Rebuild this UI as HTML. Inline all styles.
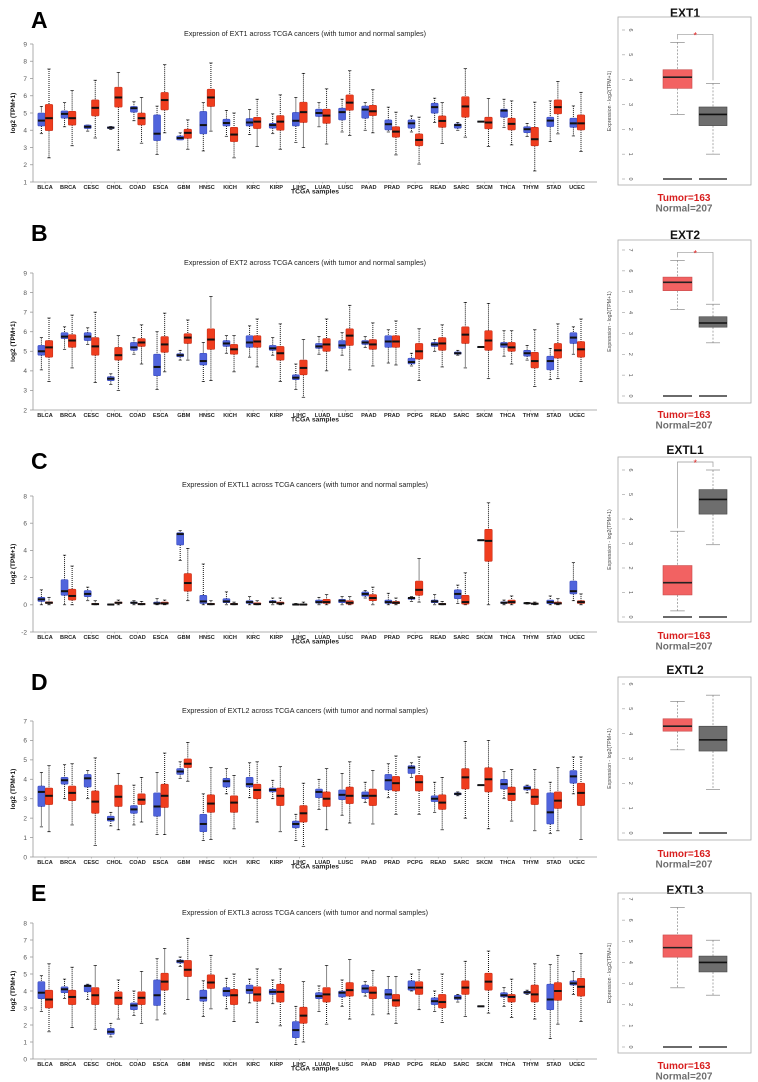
<!DOCTYPE html>
<html><head><meta charset="utf-8"><style>
html,body{margin:0;padding:0;background:#fff;}
svg{display:block;font-family:"Liberation Sans",sans-serif;}
</style></head><body>
<svg id="fig" width="758" height="1082" viewBox="0 0 758 1082" xmlns="http://www.w3.org/2000/svg"></svg>
<script>
const cats=["BLCA","BRCA","CESC","CHOL","COAD","ESCA","GBM","HNSC","KICH","KIRC","KIRP","LIHC","LUAD","LUSC","PAAD","PRAD","PCPG","READ","SARC","SKCM","THCA","THYM","STAD","UCEC"];
// stats: [q1, median, q3, whiskerLow, whiskerHigh]
const A_normal=[[4.25,4.56,5.0,3.8,5.38],[4.7,4.95,5.12,4.2,5.6],[4.1,4.2,4.3,3.95,4.3],[4.1,4.15,4.2,4.05,4.22],[5.05,5.28,5.38,4.55,5.65],[3.4,3.8,4.89,2.6,5.4],[3.44,3.55,3.67,3.45,3.85],[3.79,4.3,5.09,2.8,5.6],[4.25,4.42,4.64,3.65,5.15],[4.25,4.45,4.68,3.75,5.2],[4.12,4.3,4.4,3.8,4.95],[4.25,4.55,5.03,3.3,5.9],[4.8,5.0,5.22,4.2,5.6],[4.6,5.05,5.28,3.9,5.8],[4.7,5.2,5.4,4.0,5.6],[4.02,4.35,4.6,3.9,5.34],[4.12,4.4,4.6,3.9,4.83],[4.99,5.34,5.57,4.45,5.86],[4.12,4.3,4.37,4.0,4.45],[4.5,4.5,4.5,4.5,4.5],[4.76,5.14,5.22,4.17,5.8],[3.86,4.06,4.21,3.63,4.4],[4.21,4.56,4.76,3.34,5.7],[4.17,4.4,4.7,3.67,5.41]];
const A_tumor=[[3.98,4.7,5.5,2.4,7.55],[4.3,4.7,5.1,3.1,6.3],[4.83,5.3,5.76,3.55,6.9],[5.34,5.9,6.5,2.85,7.35],[4.31,4.7,5.0,3.25,5.9],[5.18,5.75,6.19,3.85,7.8],[3.53,3.85,4.06,2.9,4.6],[5.38,5.9,6.38,3.95,7.9],[3.34,3.75,4.17,2.4,5.0],[4.1,4.5,4.75,3.05,5.8],[4.0,4.5,4.85,2.9,6.05],[4.45,5.05,5.63,3.0,7.3],[4.4,4.85,5.22,3.2,6.4],[5.16,5.6,6.05,3.7,7.45],[4.85,5.1,5.45,3.85,6.35],[3.6,3.92,4.21,2.57,5.05],[3.1,3.44,3.79,2.04,4.76],[4.17,4.54,4.83,3.24,5.6],[4.76,5.38,5.95,3.6,7.57],[4.08,4.45,4.76,3.05,5.84],[4.02,4.37,4.7,3.15,5.7],[3.1,3.48,4.17,1.64,5.63],[4.95,5.34,5.76,3.79,6.83],[4.02,4.4,4.89,2.76,6.2]];
const B_normal=[[4.8,5.0,5.3,4.05,5.7],[5.65,5.75,5.95,5.1,6.25],[5.55,5.75,5.95,5.35,6.2],[3.5,3.6,3.7,3.3,3.85],[5.05,5.2,5.45,4.85,5.7],[3.75,4.2,4.85,3.05,6.0],[4.72,4.8,4.88,4.55,5.05],[4.3,4.5,4.9,3.45,5.45],[5.25,5.4,5.55,4.9,5.8],[5.2,5.45,5.8,4.7,6.3],[5.05,5.15,5.3,4.8,5.7],[3.55,3.65,3.8,3.05,4.35],[5.15,5.25,5.4,4.85,5.75],[5.15,5.3,5.55,4.8,5.95],[5.35,5.45,5.55,5.2,5.75],[5.2,5.5,5.8,4.4,6.1],[4.35,4.45,4.65,4.25,4.9],[5.25,5.35,5.45,5.0,5.6],[4.85,4.9,4.97,4.8,5.05],[5.22,5.22,5.22,5.22,5.22],[5.2,5.35,5.45,4.75,6.05],[4.75,4.9,5.05,4.55,5.3],[4.05,4.5,4.75,3.55,5.15],[5.4,5.7,5.95,4.85,6.25]];
const B_tumor=[[4.7,5.2,5.55,3.45,6.7],[5.2,5.55,5.85,4.15,6.85],[4.8,5.25,5.7,3.4,7.0],[4.55,4.8,5.2,3.0,5.8],[5.25,5.45,5.65,4.35,6.35],[4.95,5.35,5.75,3.95,6.95],[5.4,5.7,5.9,4.55,6.6],[5.1,5.6,6.15,3.5,7.8],[4.85,5.1,5.35,3.95,5.8],[5.2,5.5,5.8,4.2,6.65],[4.55,4.9,5.25,3.45,6.4],[3.8,4.15,4.55,2.65,5.6],[5.0,5.35,5.65,4.0,6.65],[5.3,5.8,6.15,4.05,7.35],[5.1,5.35,5.6,4.25,6.45],[5.2,5.5,5.8,4.3,6.55],[4.6,5.0,5.4,3.5,6.15],[5.05,5.4,5.7,4.2,6.35],[5.4,5.85,6.25,4.15,7.5],[5.05,5.55,6.05,3.6,7.45],[5.0,5.2,5.45,4.35,6.05],[4.15,4.5,4.95,3.2,6.1],[4.65,5.05,5.4,3.6,6.4],[4.7,5.1,5.5,3.45,6.65]];
const C_normal=[[0.25,0.4,0.55,0,1.1],[0.7,1.0,1.85,0,3.65],[0.6,0.8,1.05,0.3,1.3],[0,0.02,0.04,0,0.05],[0.1,0.15,0.2,0,0.3],[0.05,0.1,0.2,0,0.45],[4.4,5.2,5.3,3.25,5.45],[0.1,0.25,0.7,0,3.0],[0.15,0.25,0.45,0,0.95],[0.1,0.2,0.3,0,0.6],[0.15,0.2,0.3,0,0.5],[0,0.02,0.04,0,0.1],[0.12,0.2,0.35,0,0.55],[0.15,0.3,0.4,0,0.6],[0.65,0.8,0.95,0.5,1.05],[0.1,0.2,0.35,0,0.85],[0.4,0.5,0.55,0.25,0.6],[0.15,0.25,0.35,0,0.75],[0.45,0.8,1.1,0.1,1.45],[4.75,4.75,4.75,4.75,4.75],[0.1,0.15,0.22,0,0.35],[0.08,0.12,0.15,0.05,0.18],[0.08,0.2,0.35,0,0.65],[0.8,1.0,1.75,0.3,3.1]];
const C_tumor=[[0.1,0.15,0.22,0,0.55],[0.35,0.65,1.15,0,2.85],[0.02,0.05,0.1,0,0.3],[0.1,0.15,0.2,0,0.35],[0.02,0.05,0.1,0,0.25],[0.05,0.1,0.2,0,0.35],[1.0,1.6,2.3,0.3,4.15],[0.02,0.05,0.1,0,0.3],[0.02,0.05,0.1,0,0.2],[0.02,0.05,0.15,0,0.3],[0.05,0.1,0.2,0,0.5],[0,0.02,0.05,0,0.2],[0.1,0.2,0.4,0,0.75],[0.05,0.15,0.3,0,0.6],[0.3,0.5,0.75,0,1.3],[0.08,0.15,0.25,0,0.5],[0.7,1.1,1.75,0.2,3.4],[0.02,0.05,0.1,0,0.25],[0.05,0.2,0.7,0,2.35],[3.2,4.7,5.55,0,7.5],[0.1,0.2,0.35,0,0.65],[0.04,0.08,0.12,0,0.2],[0.05,0.1,0.2,0,0.45],[0.1,0.2,0.3,0,0.8]];
const D_normal=[[2.6,3.35,3.65,1.55,4.35],[3.75,3.95,4.1,3.0,4.75],[3.6,4.05,4.25,3.0,4.45],[1.85,1.95,2.1,1.6,2.3],[2.25,2.45,2.65,1.65,3.7],[2.1,2.6,3.3,1.15,4.35],[4.25,4.4,4.55,4.05,4.9],[1.3,1.7,2.2,0.85,3.25],[3.6,3.9,4.05,3.25,4.55],[3.6,3.75,4.1,3.05,4.85],[3.35,3.45,3.55,3.0,3.95],[1.5,1.7,1.85,0.85,2.2],[3.05,3.35,3.5,2.45,4.0],[2.95,3.2,3.45,2.15,4.3],[3.0,3.15,3.35,2.8,3.85],[3.45,3.95,4.25,3.05,4.8],[4.3,4.6,4.7,4.1,4.85],[2.85,3.0,3.15,2.3,3.85],[3.2,3.25,3.3,3.15,3.35],[3.7,3.7,3.7,3.7,3.7],[3.5,3.75,4.0,3.0,4.4],[3.45,3.55,3.65,3.3,3.7],[1.7,2.3,3.3,1.2,3.85],[3.8,4.15,4.45,3.25,5.15]];
const D_tumor=[[2.7,3.15,3.55,1.3,4.7],[2.9,3.3,3.65,1.65,4.8],[2.25,2.85,3.4,0.6,5.1],[2.6,3.1,3.7,1.4,4.3],[2.7,2.95,3.25,1.8,4.1],[2.55,3.15,3.75,1.15,5.35],[4.6,4.8,5.05,3.9,5.9],[2.3,2.75,3.2,0.9,4.6],[2.3,2.8,3.15,1.45,4.2],[3.0,3.45,3.75,1.8,4.9],[2.65,3.15,3.55,1.3,4.65],[1.8,2.25,2.65,0.55,3.8],[2.6,3.0,3.35,1.4,4.55],[2.75,3.15,3.6,1.75,4.9],[2.65,3.15,3.5,1.7,4.45],[3.4,3.8,4.15,2.2,5.2],[3.4,3.85,4.2,2.2,5.15],[2.45,2.8,3.2,1.4,4.1],[3.5,4.1,4.55,2.0,5.95],[3.35,4.0,4.6,1.45,6.0],[2.9,3.25,3.6,1.85,4.5],[2.7,3.1,3.5,1.35,4.5],[2.5,2.9,3.35,1.35,4.6],[2.65,3.3,3.8,0.9,5.15]];
const E_normal=[[3.55,3.9,4.55,2.8,4.9],[3.9,4.1,4.25,3.55,4.7],[3.95,4.3,4.35,3.5,4.4],[1.45,1.6,1.8,1.3,2.1],[2.9,3.15,3.3,2.55,4.0],[3.15,3.75,4.65,2.3,5.9],[5.65,5.75,5.82,5.45,6.0],[3.4,3.6,4.05,2.5,4.6],[3.7,4.0,4.2,2.95,4.75],[3.85,4.05,4.35,3.3,4.7],[3.8,3.95,4.1,3.25,4.65],[1.25,1.7,2.2,0.85,3.1],[3.55,3.7,3.9,2.8,4.3],[3.65,3.9,4.0,3.1,4.65],[3.9,4.15,4.35,3.7,4.55],[3.55,3.8,4.1,2.65,4.85],[4.05,4.2,4.6,4.0,5.0],[3.2,3.4,3.6,2.8,4.0],[3.5,3.6,3.75,3.35,3.8],[3.1,3.1,3.1,3.1,3.1],[3.65,3.75,3.9,3.1,4.2],[3.85,3.92,3.98,3.8,4.05],[2.9,3.5,4.4,1.2,5.55],[4.35,4.45,4.6,3.8,5.15]];
const E_tumor=[[3.0,3.5,4.05,1.6,5.6],[3.2,3.65,4.05,1.85,5.4],[3.2,3.75,4.2,1.75,5.5],[3.2,3.6,3.95,2.35,4.65],[3.2,3.6,3.95,2.1,5.15],[4.05,4.55,5.05,2.65,6.5],[4.85,5.25,5.8,3.5,7.1],[4.15,4.5,4.95,2.95,6.1],[3.2,3.75,4.1,2.2,5.0],[3.4,3.8,4.25,2.15,5.3],[3.35,3.95,4.4,1.95,5.3],[2.1,2.55,3.05,1.0,4.55],[3.35,3.8,4.2,2.05,5.5],[3.7,4.05,4.5,2.35,5.85],[3.55,3.9,4.25,2.6,5.2],[3.1,3.45,3.8,2.1,4.85],[3.8,4.2,4.55,2.9,5.25],[3.0,3.35,3.8,2.15,5.0],[3.8,4.2,4.6,2.5,5.75],[4.05,4.55,5.05,2.7,6.35],[3.35,3.65,3.8,2.45,4.7],[3.35,3.8,4.35,2.35,5.6],[3.45,4.0,4.5,2.05,6.1],[3.7,4.25,4.75,2.2,6.2]];
const A_ticks=[1,2,3,4,5,6,7,8,9];
const B_ticks=[2,3,4,5,6,7,8,9];
const C_ticks=[-2,0,2,4,6,8];
const D_ticks=[0,1,2,3,4,5,6,7];
const E_ticks=[0,1,2,3,4,5,6,7,8];
// right-hand single-cancer panels: [q1, median, q3, low, high]
const RA_tumor=[3.65,4.1,4.4,2.6,5.5], RA_normal=[2.15,2.6,2.9,1.0,3.85];
const RB_tumor=[5.05,5.45,5.7,4.15,6.5], RB_normal=[3.3,3.5,3.8,2.55,4.4];
const RC_tumor=[0.9,1.4,2.1,0.25,3.5], RC_normal=[4.2,4.8,5.2,2.95,6.0];
const RD_tumor=[4.1,4.3,4.6,3.35,5.3], RD_normal=[3.3,3.75,4.3,1.75,5.55];
const RE_tumor=[4.25,4.7,5.3,2.8,6.6], RE_normal=[3.55,4.0,4.3,2.45,5.05];
const RA_ticks=[0,1,2,3,4,5,6], RB_ticks=[0,1,2,3,4,5,6,7], RC_ticks=[0,1,2,3,4,5,6], RD_ticks=[0,1,2,3,4,5,6], RE_ticks=[0,1,2,3,4,5,6,7];
const geneNames=["EXT1","EXT2","EXTL1","EXTL2","EXTL3"];
const letters=["A","B","C","D","E"];
const sampleCounts=["Tumor=163","Normal=207"];

const NS="http://www.w3.org/2000/svg";
const svg=document.getElementById('fig');
function el(tag,attrs,parent,txt){const e=document.createElementNS(NS,tag);for(const k in attrs)e.setAttribute(k,attrs[k]);if(txt!==undefined)e.textContent=txt;(parent||svg).appendChild(e);return e;}

const layout=[
 {normal:A_normal,tumor:A_tumor,ticks:A_ticks,vmin:1,vmax:9,yTop:44,yBot:182,title:34,letter:28,lab:189,
  rT:RA_tumor,rN:RA_normal,rTicks:RA_ticks,rFrame:[17,185],r0:179,rMax:6,rTopY:30,rTitle:13,cnt:197,star:true},
 {normal:B_normal,tumor:B_tumor,ticks:B_ticks,vmin:2,vmax:9,yTop:273,yBot:410,title:263,letter:241,lab:417,
  rT:RB_tumor,rN:RB_normal,rTicks:RB_ticks,rFrame:[240,403],r0:396,rMax:7,rTopY:250,rTitle:235,cnt:414,star:true},
 {normal:C_normal,tumor:C_tumor,ticks:C_ticks,vmin:-2,vmax:8,yTop:496,yBot:632,title:485,letter:469,lab:639,
  rT:RC_tumor,rN:RC_normal,rTicks:RC_ticks,rFrame:[457,622],r0:617,rMax:6,rTopY:470,rTitle:450,cnt:635,star:true},
 {normal:D_normal,tumor:D_tumor,ticks:D_ticks,vmin:0,vmax:7,yTop:721,yBot:857,title:711,letter:690,lab:864,
  rT:RD_tumor,rN:RD_normal,rTicks:RD_ticks,rFrame:[677,840],r0:833,rMax:6,rTopY:684,rTitle:670,cnt:853,star:false},
 {normal:E_normal,tumor:E_tumor,ticks:E_ticks,vmin:0,vmax:8,yTop:923,yBot:1059,title:913,letter:901,lab:1066,
  rT:RE_tumor,rN:RE_normal,rTicks:RE_ticks,rFrame:[893,1053],r0:1047,rMax:7,rTopY:899,rTitle:890,cnt:1065,star:false}
];
const X0=45, XSTEP=(577-45)/23, AXL=33, AXR=597;

function box(g,cx,w,s,yf,fill,stroke,medCol,dash){
  const [q1,md,q3,lo,hi]=s;
  const wl=el('line',{x1:cx,x2:cx,y1:yf(hi),y2:yf(q3),stroke:dash?'#888':'#111','stroke-width':dash?0.7:1,'stroke-dasharray':dash?'2,1.5':'1,1'},g);
  
  
  const wl2=el('line',{x1:cx,x2:cx,y1:yf(q1),y2:yf(lo),stroke:dash?'#888':'#111','stroke-width':dash?0.7:1,'stroke-dasharray':dash?'2,1.5':'1,1'},g);
  
  
  const cw=dash?w*0.5:w*0.45;
  el('line',{x1:cx-cw/2,x2:cx+cw/2,y1:yf(hi),y2:yf(hi),stroke:dash?'#888':'#111','stroke-width':0.7},g);
  el('line',{x1:cx-cw/2,x2:cx+cw/2,y1:yf(lo),y2:yf(lo),stroke:dash?'#888':'#111','stroke-width':0.7},g);
  const r=el('rect',{x:cx-w/2,y:yf(q3),width:w,height:Math.max(0.5,yf(q1)-yf(q3)),fill:fill,stroke:stroke,'stroke-width':0.6,rx:dash?0:1},g);
  
  
  const m=el('line',{x1:cx-w/2,x2:cx+w/2,y1:yf(md),y2:yf(md),stroke:medCol,'stroke-width':dash?1.6:2},g);
  
  
}

layout.forEach((L,pi)=>{
  const g=el('g',{});
  
  
  const yf=v=>L.yBot-(v-L.vmin)/(L.vmax-L.vmin)*(L.yBot-L.yTop);
  const lt=el('text',{x:31,y:L.letter,'font-size':23,'font-weight':'bold',fill:'#000'},g,letters[pi]);
  
  
  const tt=el('text',{x:305,y:L.title+2,'font-size':7.2,'text-anchor':'middle',fill:'#222'},g,'Expression of '+geneNames[pi]+' across TCGA cancers (with tumor and normal samples)');
  
  
  // axes
  el('line',{x1:AXL,x2:AXL,y1:L.yTop,y2:L.yBot,stroke:'#999','stroke-width':0.8},g);
  el('line',{x1:AXL,x2:AXR,y1:L.yBot,y2:L.yBot,stroke:'#999','stroke-width':0.8},g);
  L.ticks.forEach(t=>{
    el('line',{x1:AXL-3,x2:AXL,y1:yf(t),y2:yf(t),stroke:'#999','stroke-width':0.8},g);
    const tl=el('text',{x:AXL-6,y:yf(t)+2.3,'font-size':6.5,'text-anchor':'end',fill:'#555'},g,String(t));
    
    
  });
  const yl=el('text',{x:0,y:0,'font-size':6.5,'font-weight':'bold','text-anchor':'middle',fill:'#111',transform:`translate(15,${(L.yTop+L.yBot)/2}) rotate(-90)`},g,'log2 (TPM+1)');
  
  
  cats.forEach((c,i)=>{
    const cx=X0+i*XSTEP;
    el('line',{x1:cx,x2:cx,y1:L.yBot,y2:L.yBot+1.5,stroke:'#999','stroke-width':0.6},g);
    const xl=el('text',{x:cx,y:L.lab,'font-size':5.6,'font-weight':'bold','text-anchor':'middle',fill:'#222'},g,c);
    
    
    box(g,cx-3.6,7,L.normal[i],yf,'#5064dc','#3a4cc0','#111',false);
    box(g,cx+4,7.5,L.tumor[i],yf,'#ef3d1e','#c8301a','#111',false);
  });
  const xt=el('text',{x:315,y:L.lab+4.5,'font-size':6.8,'font-weight':'bold','text-anchor':'middle',fill:'#222'},g,'TCGA samples');
  
  

  // right panel
  const rg=el('g',{});
  
  
  const ry=v=>L.r0-v/L.rMax*(L.r0-L.rTopY);
  const rt=el('text',{x:685,y:L.rTitle+4,'font-size':12,'font-weight':'bold','text-anchor':'middle',fill:'#111'},rg,geneNames[pi]);
  
  
  const fr=el('rect',{x:618,y:L.rFrame[0],width:133,height:L.rFrame[1]-L.rFrame[0],fill:'none',stroke:'#aaa','stroke-width':0.8},rg);
  
  
  L.rTicks.forEach(t=>{
    el('line',{x1:622,x2:625,y1:ry(t),y2:ry(t),stroke:'#999','stroke-width':0.6},rg);
    const tl=el('text',{x:0,y:0,'font-size':5.5,'text-anchor':'middle',fill:'#555',transform:`translate(629,${ry(t)}) rotate(90)`},rg,String(t));
    
    
  });
  const ryl=el('text',{x:0,y:0,'font-size':5.2,'text-anchor':'middle',fill:'#444',transform:`translate(611,${(L.rFrame[0]+L.rFrame[1])/2}) rotate(-90)`},rg,'Expression - log2(TPM+1)');
  
  
  const tc=677.5, nc=713;
  // baseline lines at 0
  el('line',{x1:663,x2:692,y1:ry(0),y2:ry(0),stroke:'#111','stroke-width':1.3},rg);
  el('line',{x1:699,x2:727,y1:ry(0),y2:ry(0),stroke:'#111','stroke-width':1.3},rg);
  box(rg,tc,29,L.rT,ry,'#f26262','#c84a4a','#222',true);
  box(rg,nc,28,L.rN,ry,'#6e6e6e','#444','#111',true);
  if(L.star){
    const top=ry(Math.max(L.rT[4],L.rN[4]))-8;
    const br=el('polyline',{points:`${tc},${ry(L.rT[4])-3} ${tc},${top} ${nc},${top} ${nc},${ry(L.rN[4])-3}`,fill:'none',stroke:'#999','stroke-width':0.7},rg);
    
    
    const st=el('text',{x:(tc+nc)/2,y:top+4,'font-size':9,'text-anchor':'middle',fill:'#e02020'},rg,'*');
    
    
  }
  const t1=el('text',{x:684,y:L.cnt+4,'font-size':10,'font-weight':'bold','text-anchor':'middle',fill:'#d81e1e'},rg,sampleCounts[0]);
  
  
  const t2=el('text',{x:684,y:L.cnt+14.5,'font-size':10,'font-weight':'bold','text-anchor':'middle',fill:'#707070'},rg,sampleCounts[1]);
  
  
});
</script>
</body></html>
